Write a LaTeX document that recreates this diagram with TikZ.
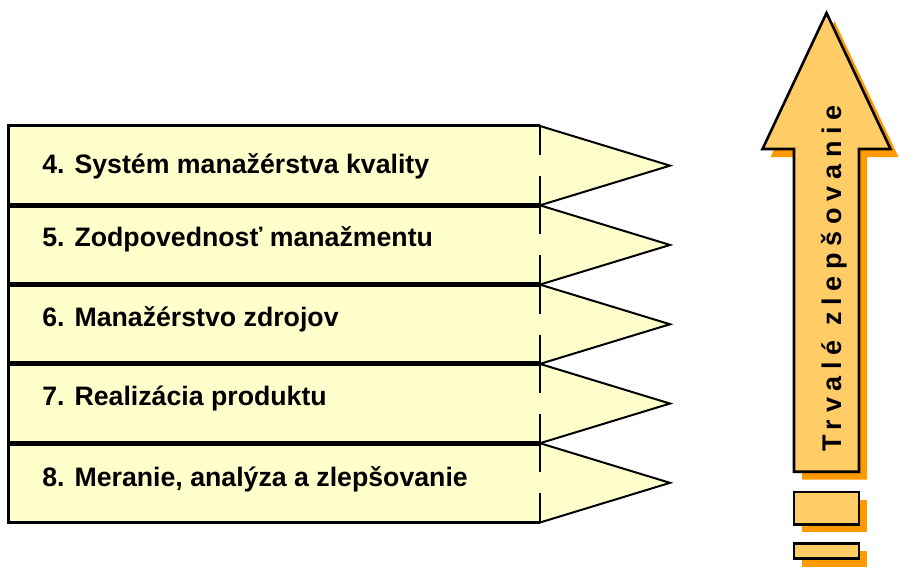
\documentclass[tikz,border=0pt]{standalone}
\usepackage{fontspec}
\setmainfont{Liberation Sans}
\newfontfamily\spacedfont[LetterSpace=25]{Liberation Sans}
\usepackage{tikz}
\usetikzlibrary{arrows.meta, positioning, shadows}
\definecolor{bandfill}{HTML}{FFFFCC}
\definecolor{arrowfill}{HTML}{FFCC66}
\definecolor{shadoworange}{HTML}{FF9900}
\tikzset{
  band/.style={
    rectangle,
    draw=none,
    fill=bandfill,
    outer sep=0pt,
    minimum width=531.5pt,
    minimum height=79.3pt
  },
  bandtext/.style={
    font=\fontsize{26.7}{32}\selectfont\bfseries,
    inner sep=0pt,
    anchor=base west
  },
  tipshape/.style={
    fill=bandfill,
    draw=black,
    line width=2pt,
    line join=miter
  },
  frame/.style={
    line width=3pt,
    line join=miter
  },
  sepline/.style={
    line width=5pt
  },
  dashline/.style={
    line width=2.2pt,
    dash pattern=on 29pt off 21pt
  },
  orangeshadow/.style={
    drop shadow={shadow xshift=8pt, shadow yshift=-8pt, fill=shadoworange, opacity=1}
  },
  bar/.style={
    rectangle,
    draw=black,
    fill=arrowfill,
    line width=2.6pt,
    minimum width=65pt,
    orangeshadow
  }
}

\begin{document}
\begin{tikzpicture}[x=1pt, y=-1pt]
\useasboundingbox (0,0) rectangle (923,575);

% --- bands ---
\node (band4) [band, anchor=north west] at (8.5,126) {};
\node (band5) [band, below=0pt of band4] {};
\node (band6) [band, below=0pt of band5] {};
\node (band7) [band, below=0pt of band6] {};
\node (band8) [band, below=0pt of band7] {};

% --- tips and dashed edges ---
\foreach \i in {4,...,8} {
  \filldraw[tipshape] (band\i.north east) -- ([xshift=130pt]band\i.east) -- (band\i.south east);
  \draw[dashline] (band\i.north east) -- (band\i.south east);
}

% --- frame ---
\draw[frame] (band4.north east) -- (band4.north west) -- (band8.south west) -- (band8.south east);
\foreach \a in {4,...,7}
  \draw[sepline] (band\a.south west) -- (band\a.south east);

% --- texts ---
\node (txt4) [bandtext] at ([xshift=33.7pt, yshift=-47pt]band4.north west) {4. Systém manažérstva kvality};
\node (txt5) [bandtext] at ([xshift=33.7pt, yshift=-41pt]band5.north west) {5. Zodpovednosť manažmentu};
\node (txt6) [bandtext] at ([xshift=33.7pt, yshift=-41.5pt]band6.north west) {6. Manažérstvo zdrojov};
\node (txt7) [bandtext] at ([xshift=33.7pt, yshift=-41.8pt]band7.north west) {7. Realizácia produktu};
\node (txt8) [bandtext] at ([xshift=33.7pt, yshift=-43pt]band8.north west) {8. Meranie, analýza a zlepšovanie};

% --- improvement arrow ---
\filldraw[fill=arrowfill, draw=black, line width=2.6pt, line join=miter, orangeshadow]
  (826.5,13) -- (890.5,149) -- (859,149) -- (859,471.7) -- (794,471.7) -- (794,149) -- (762.5,149) -- cycle;
\node (trvale) [rotate=90, anchor=base, inner sep=0pt, font=\fontsize{27}{32}\selectfont\spacedfont\bfseries] at (841,278.5) {Trvalé zlepšovanie};

% --- bars below ---
\node (bar1) [bar, minimum height=32.4pt] at (826.5,508.2) {};
\node (bar2) [bar, minimum height=15.4pt] at (826.5,551) {};

\end{tikzpicture}
\end{document}
